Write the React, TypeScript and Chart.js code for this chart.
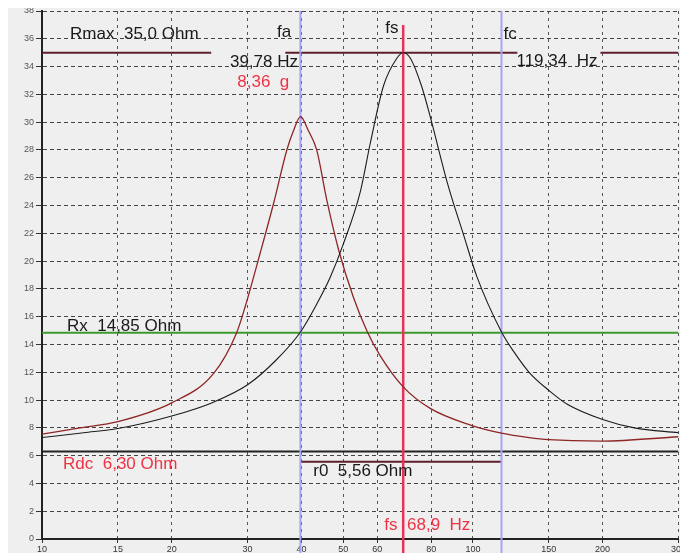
import React, { useEffect, useRef } from "react";
import { Chart, registerables } from "chart.js";

Chart.register(...registerables);

// Axis ticks
const xTicks = [10, 15, 20, 30, 40, 50, 60, 80, 100, 150, 200, 300];
const xMin = 10;
const xMax = 300;
const yMin = 0;
const yMax = 38;
const yStep = 2;

// Impedance curve around fs (black)
const blackFreq = [10, 12.5, 15, 20, 25, 30, 35, 39.8, 43.4, 46.6, 50, 54.8, 57.8, 62, 66.6, 68.9, 71.6, 76, 79.6, 87.3, 95.1, 102.1, 116.5, 124.3, 135, 150, 165.6, 200, 237, 300];
const blackZ = [7.3, 7.65, 7.95, 8.85, 9.85, 11.1, 12.9, 14.9, 16.9, 18.8, 21.2, 25.0, 28.5, 32.6, 34.6, 35.0, 34.6, 32.6, 30.4, 25.6, 21.9, 18.9, 14.9, 13.5, 12.0, 10.7, 9.7, 8.6, 8.0, 7.65];

// Impedance curve with added mass (red)
const redFreq = [10, 12.25, 15, 20, 25, 28.3, 29.6, 32.1, 34.5, 37.0, 38.35, 39.8, 41.5, 43.4, 45.8, 48.8, 52.8, 56.9, 60.9, 68.9, 79.6, 98.7, 116.5, 135, 150, 200, 300];
const redZ = [7.55, 8.0, 8.45, 9.8, 11.9, 14.85, 16.7, 20.6, 24.2, 28.0, 29.4, 30.4, 29.4, 28.0, 24.4, 20.8, 17.4, 14.9, 13.2, 10.95, 9.4, 8.2, 7.62, 7.3, 7.15, 7.05, 7.36];

// Marker values
const fa = 39.78;
const fs = 68.9;
const fcLine = 116.5;
const fsLineTop = 37.0;
const rmax = 35.0;
const rx = 14.85;
const rdc = 6.3;
const r0 = 5.56;
const rmaxSegStart = [10, 36.7, 197.7];
const rmaxSegEnd = [24.7, 126.8, 300];

// Text annotations (anchored in data coordinates)
const labelTexts = ["Rmax  35,0 Ohm", "fa", "fs", "fc", "39,78 Hz", "8,36  g", "119,34  Hz", "Rx  14,85 Ohm", "Rdc  6,30 Ohm", "r0  5,56 Ohm", "fs  68,9  Hz"];
const labelFreqs = [11.62, 35.1, 62.6, 117.7, 27.3, 28.4, 126.2, 11.43, 11.19, 42.6, 62.3];
const labelValues = [35.97, 36.1, 36.4, 36.0, 33.96, 32.5, 34.03, 14.96, 5.04, 4.53, 0.65];
const labelColors = ["#1a1a1a", "#1a1a1a", "#1a1a1a", "#1a1a1a", "#1a1a1a", "#ee3344", "#1a1a1a", "#1a1a1a", "#ee3344", "#1a1a1a", "#ee3344"];

const FONT = '"Liberation Sans", Arial, sans-serif';

const textPlugin = {
  id: "textLabels",
  afterDatasetsDraw(chart: any) {
    const { ctx, scales } = chart;
    const xs = scales.x;
    const ys = scales.y;
    ctx.save();
    ctx.textAlign = "left";
    ctx.textBaseline = "alphabetic";
    labelTexts.forEach((t, i) => {
      ctx.font = `17px ${FONT}`;
      ctx.fillStyle = labelColors[i];
      ctx.fillText(t, xs.getPixelForValue(labelFreqs[i]), ys.getPixelForValue(labelValues[i]));
    });
    ctx.restore();
  },
};

const pts = (xs: number[], ys: number[]) => xs.map((x, i) => ({ x, y: ys[i] }));

export default function App() {
  const ref = useRef<HTMLCanvasElement | null>(null);

  useEffect(() => {
    document.documentElement.style.overflow = "hidden";
    document.body.style.overflow = "hidden";
    if (!ref.current) return;

    const lineBase = { pointRadius: 0, fill: false, tension: 0 };

    const datasets: any[] = [
      {
        ...lineBase,
        label: "Z fs",
        data: pts(blackFreq, blackZ),
        borderColor: "#1c1c1c",
        borderWidth: 1.1,
        cubicInterpolationMode: "monotone",
        order: 0,
      },
      {
        ...lineBase,
        label: "Z fa",
        data: pts(redFreq, redZ),
        borderColor: "#8e2626",
        borderWidth: 1.3,
        cubicInterpolationMode: "monotone",
        order: 0,
      },
      ...rmaxSegStart.map((s, i) => ({
        ...lineBase,
        label: "Rmax" + i,
        data: [{ x: s, y: rmax }, { x: rmaxSegEnd[i], y: rmax }],
        borderColor: "#5c1f2c",
        borderWidth: 2,
        order: 2,
      })),
      {
        ...lineBase,
        label: "Rx",
        data: [{ x: xMin, y: rx }, { x: xMax, y: rx }],
        borderColor: "#3c9a2c",
        borderWidth: 2,
        order: 2,
      },
      {
        ...lineBase,
        label: "Rdc",
        data: [{ x: xMin, y: rdc }, { x: xMax, y: rdc }],
        borderColor: "#222222",
        borderWidth: 2,
        order: 2,
      },
      {
        ...lineBase,
        label: "r0",
        data: [{ x: fa, y: r0 }, { x: fcLine, y: r0 }],
        borderColor: "#5c1f2c",
        borderWidth: 2,
        order: 2,
      },
      {
        ...lineBase,
        label: "fa",
        data: [{ x: fa, y: -2 }, { x: fa, y: yMax }],
        borderColor: "#a4a4f4",
        borderWidth: 2,
        clip: false,
        order: 1,
      },
      {
        ...lineBase,
        label: "fs",
        data: [{ x: fs, y: -2 }, { x: fs, y: fsLineTop }],
        borderColor: "#e8325a",
        borderWidth: 2.5,
        clip: false,
        order: 1,
      },
      {
        ...lineBase,
        label: "fc",
        data: [{ x: fcLine, y: -2 }, { x: fcLine, y: yMax }],
        borderColor: "#a4a4f4",
        borderWidth: 2,
        clip: false,
        order: 1,
      },
    ];

    const chart = new Chart(ref.current, {
      type: "line",
      data: { datasets },
      options: {
        animation: false,
        responsive: false,
        devicePixelRatio: 1,
        layout: { padding: { top: 3, right: 1.5, left: 0, bottom: 0 } },
        plugins: { legend: { display: false }, tooltip: { enabled: false } },
        scales: {
          x: {
            type: "logarithmic",
            min: xMin,
            max: xMax,
            afterBuildTicks: (s: any) => {
              s.ticks = xTicks.map((v) => ({ value: v }));
            },
            afterFit: (s: any) => {
              s.height = 14;
              s.paddingLeft = 0;
              s.paddingRight = 0;
            },
            ticks: {
              autoSkip: false,
              maxRotation: 0,
              padding: 1,
              color: "#333",
              font: { size: 9, family: FONT },
              callback: (v: any) => String(v),
            },
            grid: { color: "#555", lineWidth: 1, tickLength: 4, tickColor: "#333" },
            border: { display: true, color: "#222", width: 2, dash: [3, 4] },
          },
          y: {
            type: "linear",
            min: yMin,
            max: yMax,
            afterFit: (s: any) => {
              s.width = 34;
              s.paddingTop = 0;
              s.paddingBottom = 0;
            },
            ticks: {
              stepSize: yStep,
              autoSkip: false,
              padding: 2,
              color: "#555",
              font: { size: 9, family: FONT },
            },
            grid: { color: "#444", lineWidth: 1, tickLength: 6, tickColor: "#333" },
            border: { display: true, color: "#222", width: 2, dash: [4, 3] },
          },
        },
      } as any,
      plugins: [textPlugin],
    });

    return () => chart.destroy();
  }, []);

  return (
    <div style={{ width: 672, height: 537 }}>
      <canvas
        ref={ref}
        width={672}
        height={545}
        style={{ display: "block", width: 672, height: 545, background: "#efefef", position: "fixed", left: 8, top: 8 }}
      />
    </div>
  );
}
